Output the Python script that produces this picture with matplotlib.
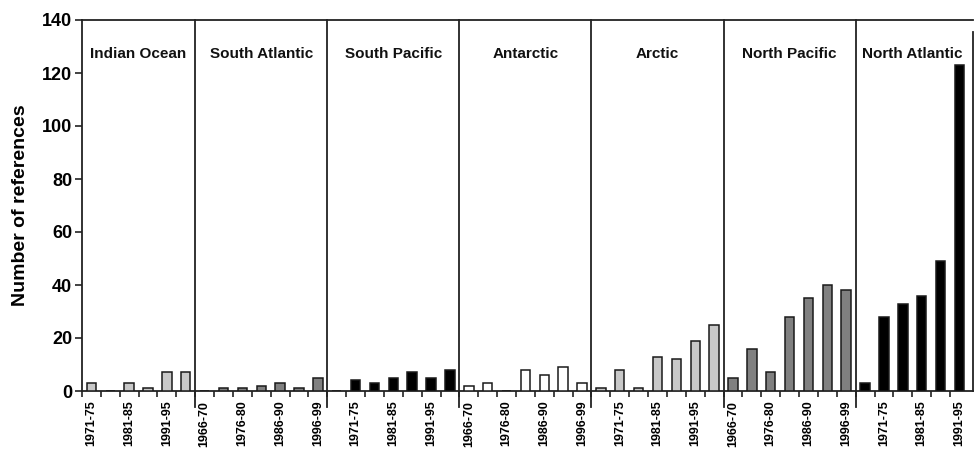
import matplotlib
matplotlib.use("Agg")
import matplotlib.pyplot as plt
import numpy as np

plt.rcParams['font.family'] = ['Liberation Sans', 'DejaVu Sans']

oceans = ['Indian Ocean', 'South Atlantic', 'South Pacific', 'Antarctic',
          'Arctic', 'North Pacific', 'North Atlantic']
periods = ['1966-70', '1971-75', '1976-80', '1981-85', '1986-90', '1991-95', '1996-99']

indian_periods = periods[1:]
indian = [3, 0, 3, 1, 7, 7]
s_atlantic = [0, 1, 1, 2, 3, 1, 5]
s_pacific = [0, 4, 3, 5, 7, 5, 8]
antarctic = [2, 3, 0, 8, 6, 9, 3]
arctic = [1, 8, 1, 13, 12, 19, 25]
n_pacific = [5, 16, 7, 28, 35, 40, 38]
n_atlantic_periods = periods[:6]
n_atlantic = [3, 28, 33, 36, 49, 123]

panel_periods = [indian_periods, periods, periods, periods, periods, periods, n_atlantic_periods]
panel_values = [indian, s_atlantic, s_pacific, antarctic, arctic, n_pacific, n_atlantic]
panel_colors = ['#c8c8c8', '#808080', '#000000', '#ffffff', '#c8c8c8', '#808080', '#000000']

yticks = [0, 20, 40, 60, 80, 100, 120, 140]

fig = plt.figure(figsize=(9.75, 4.51), dpi=100)
ax = fig.add_axes([82/975, 60/451, (973-82)/975, 371/451])

edge = '#1a1a1a'
offset = 0
tick_pos, tick_lab = [], []
boundaries = []
for name, pers, vals, col in zip(oceans, panel_periods, panel_values, panel_colors):
    xs = offset + np.arange(len(vals))
    ax.bar(xs, vals, width=0.5, color=col, edgecolor=edge, linewidth=1.1, zorder=3)
    for x, p in zip(xs, pers):
        if x % 2 == 0:
            tick_pos.append(x)
            tick_lab.append(p)
    center = offset + (len(vals) - 1) / 2
    ax.text(center, 127, name, ha='center', va='center', fontsize=11,
            fontweight='bold', color='#111111')
    offset += len(vals)
    boundaries.append(offset - 0.5)

total = offset
ax.set_xlim(-0.5, total - 0.5 + 0.22)
ax.set_ylim(0, 140)

# panel dividers
for b in boundaries[:-1]:
    ax.plot([b, b], [-6, 140], color='#222222', lw=1.3, clip_on=False, zorder=4)

ax.set_yticks(yticks)
ax.set_yticklabels([str(v) for v in yticks], fontsize=13, fontweight='bold')
ax.tick_params(axis='y', direction='out', length=5, width=1.2, color='#222222', pad=2)

ax.set_xticks(tick_pos)
ax.set_xticklabels(tick_lab, rotation=90, fontsize=9, fontweight='bold')
ax.tick_params(axis='x', which='major', length=0, pad=7)
ax.set_xticks(np.arange(total) - 0.5, minor=True)
ax.tick_params(axis='x', which='minor', direction='out', length=4.5, width=1.2, color='#222222')

for s in ['left', 'bottom', 'top', 'right']:
    ax.spines[s].set_color('#222222')
    ax.spines[s].set_linewidth(1.3)
ax.spines['right'].set_bounds(0, 135.5)

ax.set_ylabel('Number of references', fontsize=14, fontweight='bold')
ax.yaxis.set_label_coords(-53/891, 0.5)

fig.savefig('out.png', dpi=100)
